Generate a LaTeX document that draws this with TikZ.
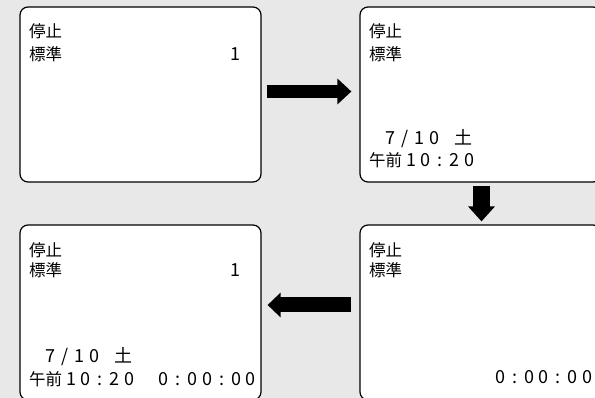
\documentclass[tikz,border=0pt]{standalone}
\usepackage{fontspec}
\newfontfamily\jpfont{Noto Sans CJK JP}
\usetikzlibrary{arrows.meta}
\definecolor{fond}{RGB}{232,232,232}
\newlength\cellw
\setlength\cellw{14.5pt}
\newcommand\lcd[1]{\lcdnext#1\relax}
\newcommand\lcdnext[1]{\ifx\relax#1\else\makebox[\cellw]{\fontsize{18pt}{18pt}\selectfont#1}\expandafter\lcdnext\fi}
\begin{document}
\begin{tikzpicture}[x=1pt,y=-1pt,
        screen/.style={draw,rounded corners=8pt,fill=white,line width=1.2pt,minimum width=241pt,minimum height=175pt,inner sep=0pt},
        txt/.style={font=\jpfont\fontsize{16.5pt}{16.5pt}\selectfont,inner sep=0pt},
        bigarrow/.style={-{Triangle[length=14pt,width=25pt]},line width=14pt}]
        \useasboundingbox (0,0) rectangle (595,398);
        \clip (0,0) rectangle (595,398);
        \fill[fond] (0,0) rectangle (595,398);
        \node[screen] (S1) at (140.5,94.5){};
        \node[screen] (S2) at (480.5,94.5){};
        \node[screen] (S3) at (140.5,312.5){};
        \node[screen] (S4) at (480.5,312.5){};
        \node[txt,anchor=base west] (S1a) at (29,38){停止};
        \node[txt,anchor=base west] (S1b) at (29,61){標準};
        \node[txt,anchor=base east] (S1n) at (243,61){\lcd{1}};
        \node[txt,anchor=base west] (S2a) at (369,38){停止};
        \node[txt,anchor=base west] (S2b) at (369,61){標準};
        \node[txt,anchor=base west] (S2d) at (369,144.5){\lcd{~7/10~土}};
        \node[txt,anchor=base west] (S2h) at (369,166.5){午前\kern2pt\lcd{10:20}};
        \node[txt,anchor=base west] (S3a) at (29,256.5){停止};
        \node[txt,anchor=base west] (S3b) at (29,277){標準};
        \node[txt,anchor=base east] (S3n) at (243,277){\lcd{1}};
        \node[txt,anchor=base west] (S3d) at (29,362.5){\lcd{~7/10~土}};
        \node[txt,anchor=base west] (S3h) at (29,385){午前\kern2pt\lcd{10:20}};
        \node[txt,anchor=base east] (S3c) at (258,385){\lcd{0:00:00}};
        \node[txt,anchor=base west] (S4a) at (369,256.5){停止};
        \node[txt,anchor=base west] (S4b) at (369,277){標準};
        \node[txt,anchor=base east] (S4c) at (594.5,384){\lcd{0:00:00}};
        \draw[bigarrow,line width=13pt] ([xshift=5pt,yshift=3pt]S1.east) to ([xshift=-8pt,yshift=3pt]S2.west);
        \draw[bigarrow,line width=17pt,-{Triangle[length=15pt,width=26pt]}] ([xshift=1pt,yshift=-3pt]S2.south) to ([xshift=1pt,yshift=3pt]S4.north);
        \draw[bigarrow,line width=15pt,-{Triangle[length=13pt,width=24pt]}] ([xshift=-8pt,yshift=7.5pt]S4.west) to ([xshift=6pt,yshift=7.5pt]S3.east);
    \end{tikzpicture}
\end{document}
